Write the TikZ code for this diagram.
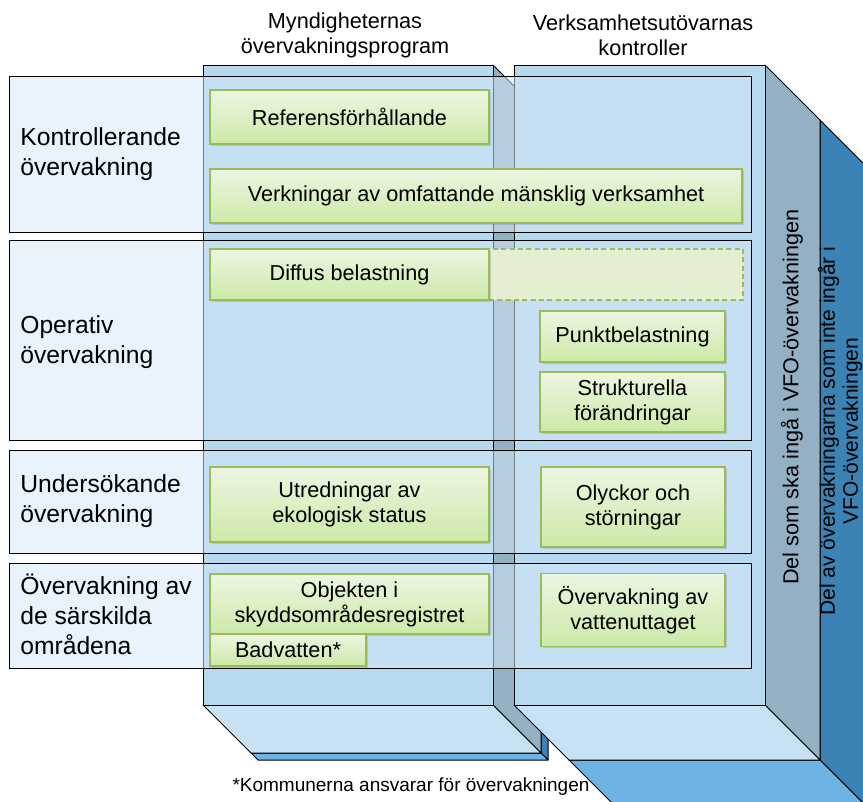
\documentclass[tikz,border=0pt]{standalone}
\usepackage{fontspec}
\setmainfont{Liberation Sans}
\usetikzlibrary{shadows}
\definecolor{frontblue}{RGB}{182,217,240}
\definecolor{bottomblue}{RGB}{198,226,244}
\definecolor{sidegrey}{RGB}{148,176,196}
\definecolor{deepblue}{RGB}{59,130,181}
\definecolor{midblue}{RGB}{109,179,228}
\definecolor{rowfill}{RGB}{211,232,247}
\definecolor{boxtop}{RGB}{236,246,226}
\definecolor{boxbottom}{RGB}{204,233,167}
\definecolor{boxline}{RGB}{155,187,89}
\definecolor{dashfill}{RGB}{228,239,210}
\begin{document}
\begin{tikzpicture}[x=0.6pt,y=-0.6pt,
    every node/.append style={inner sep=0pt,align=center,
        font=\fontsize{13}{15}\selectfont},
    face/.style={draw=black,line width=0.6pt,line join=round},
    band/.style={draw=black,line width=0.6pt,fill=rowfill,fill opacity=0.53},
    bandlabel/.style={anchor=west,align=left,font=\fontsize{14.8}{18}\selectfont},
    gbox/.style={draw=boxline,line width=0.8pt,top color=boxtop,bottom color=boxbottom,
        drop shadow={shadow xshift=0.9pt,shadow yshift=-0.9pt,opacity=0.3}},
    dashbox/.style={draw=boxline,line width=0.8pt,dash pattern=on 3pt off 2pt,fill=dashfill}]
    \path[use as bounding box,clip] (0,0) rectangle (863,801);

    \filldraw[face,fill=deepblue] (820,120) -- (920,220) -- (920,860) -- (820,760) -- cycle;
    \filldraw[face,fill=midblue] (569,760) -- (820,760) -- (920,860) -- (669,860) -- cycle;

    \filldraw[face,fill=deepblue] (541,113) -- (548,120) -- (548,760) -- (541,753) -- cycle;
    \filldraw[face,fill=midblue] (251,753) -- (541,753) -- (548,760) -- (258,760) -- cycle;
    \filldraw[face,fill=sidegrey] (493,65) -- (541,113) -- (541,753) -- (493,705) -- cycle;
    \filldraw[face,fill=bottomblue] (203,705) -- (493,705) -- (541,753) -- (251,753) -- cycle;
    \filldraw[face,fill=frontblue] (203,65) rectangle (493,705);

    \filldraw[face,fill=sidegrey] (765,65) -- (820,120) -- (820,760) -- (765,705) -- cycle;
    \filldraw[face,fill=bottomblue] (514,705) -- (765,705) -- (820,760) -- (569,760) -- cycle;
    \filldraw[face,fill=frontblue] (514,65) rectangle (765,705);

    \node[rotate=90] (ingar) at (792,397) {Del som ska ingå i VFO-övervakningen};
    \node[rotate=90,font=\fontsize{12.6}{13.8}\selectfont] (ingarej) at (840,431)
        {Del av övervakningarna som inte ingår i\\VFO-övervakningen};

    \draw[band] (9,76) rectangle (751,232);
    \draw[band] (9,240) rectangle (751,440);
    \draw[band] (9,450) rectangle (751,553);
    \draw[band] (9,563) rectangle (751,668);

    \node[bandlabel] (kontroll) at (20,154) {Kontrollerande\\övervakning};
    \node[bandlabel] (operativ) at (20,342) {Operativ\\övervakning};
    \node[bandlabel] (undersok) at (20,501) {Undersökande\\övervakning};
    \node[bandlabel] (sarskilda) at (20,614) {Övervakning av\\de särskilda\\områdena};

    \node (myndig) at (345,35) {Myndigheternas\\övervakningsprogram};
    \node (verksam) at (643,35) {Verksamhetsutövarnas\\kontroller};

    \node[gbox,minimum width=167.4pt,minimum height=32.4pt] (ref) at (349.5,117) {Referensförhållande};
    \node[gbox,minimum width=319.2pt,minimum height=32.4pt] (verkn) at (476,196) {Verkningar av omfattande mänsklig verksamhet};
    \node[dashbox,minimum width=152.4pt,minimum height=30.6pt] (diffusdel) at (616,274.5) {};
    \node[gbox,minimum width=167.4pt,minimum height=30.6pt] (diffus) at (349.5,274.5) {Diffus belastning};
    \node[gbox,minimum width=111pt,minimum height=30.6pt] (punkt) at (632.5,336.5) {Punktbelastning};
    \node[gbox,minimum width=111pt,minimum height=36pt] (struktur) at (632.5,402) {Strukturella\\förändringar};
    \node[gbox,minimum width=167.4pt,minimum height=45pt] (utredn) at (349.5,504.5) {Utredningar av\\ekologisk status};
    \node[gbox,minimum width=110.4pt,minimum height=48pt] (olyckor) at (633,507) {Olyckor och\\störningar};
    \node[gbox,minimum width=167.4pt,minimum height=36pt] (objekt) at (349.5,604) {Objekten i\\skyddsområdesregistret};
    \node[gbox,minimum width=93.6pt,minimum height=19.2pt] (badvatten) at (288,650) {Badvatten*};
    \node[gbox,minimum width=110.4pt,minimum height=43.8pt] (uttag) at (633,610) {Övervakning av\\vattenuttaget};

    \node[font=\fontsize{11.4}{13}\selectfont] (fotnot) at (411,787) {*Kommunerna ansvarar för övervakningen};
\end{tikzpicture}
\end{document}
